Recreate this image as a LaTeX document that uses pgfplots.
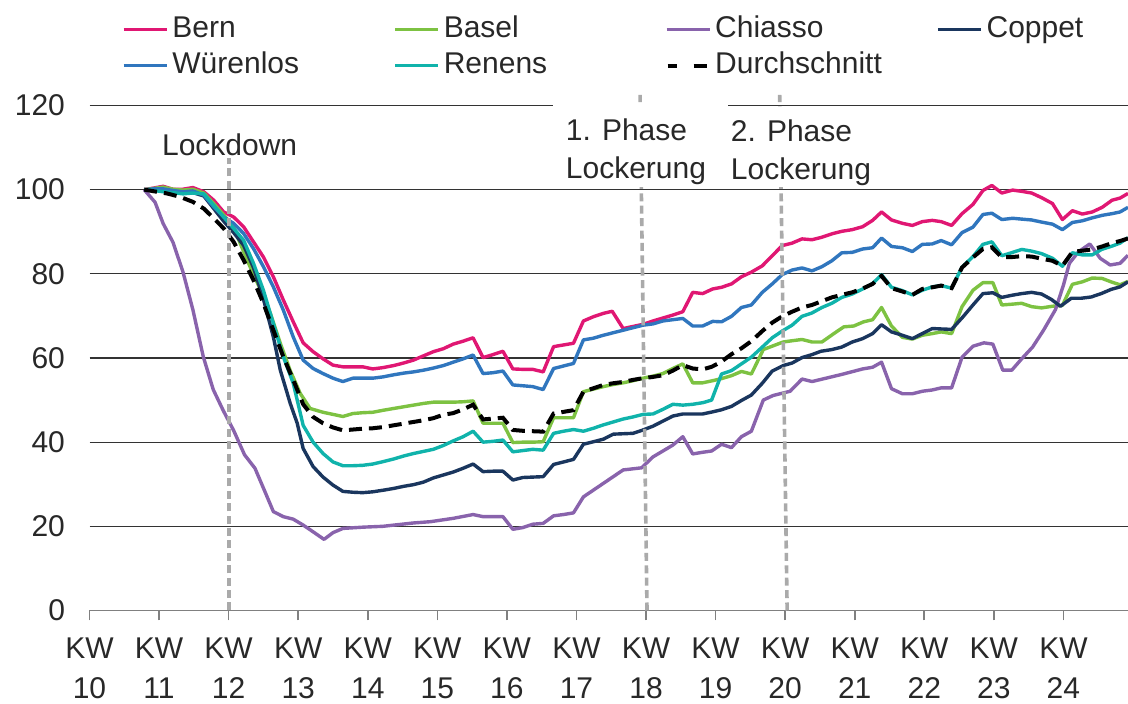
\documentclass[border=0pt]{standalone}
\usepackage{fontspec}
\setmainfont{Liberation Sans}
\usepackage{pgfplots}
\pgfplotsset{compat=1.18}
\definecolor{cBern}{RGB}{224,23,115}
\definecolor{cBasel}{RGB}{125,194,66}
\definecolor{cChiasso}{RGB}{137,99,172}
\definecolor{cCoppet}{RGB}{26,54,94}
\definecolor{cWuer}{RGB}{48,118,190}
\definecolor{cRenens}{RGB}{16,179,171}
\definecolor{cPhase}{RGB}{170,170,170}
\definecolor{cText}{RGB}{40,40,40}
\begin{document}
\begin{tikzpicture}
\path[use as bounding box] (-44.75pt,-46.75pt) rectangle (519.25pt,305.25pt);
\begin{axis}[
  at={(0pt,0pt)}, anchor=south west,
  scale only axis, width=519.25pt, height=252.5pt,
  xmin=0, xmax=104.5, ymin=0, ymax=120,
  clip=false,
  axis x line*=bottom, axis y line*=left,
  y axis line style={draw=none},
  x axis line style={draw=black!50, line width=0.8pt},
  xtick={0,7,...,98},
  xticklabels={KW\\10,KW\\11,KW\\12,KW\\13,KW\\14,KW\\15,KW\\16,KW\\17,KW\\18,KW\\19,KW\\20,KW\\21,KW\\22,KW\\23,KW\\24},
  xtick align=outside,
  ytick align=inside,
  xtick style={draw=black!50, line width=0.8pt},
  major tick length=5pt,
  ytick={0,20,...,120},
  ytick style={draw=none},
  ymajorgrids,
  grid style={draw=black!80, line width=0.6pt},
  tick label style={font=\fontsize{15}{20}\selectfont, text=cText},
  xticklabel style={align=center, yshift=-5pt},
  yticklabel style={xshift=-8.75pt},
  /pgf/number format/assume math mode=true,
  legend columns=4,
  legend cell align=left,
  legend style={draw=none, fill=none, inner sep=0pt, outer sep=0pt,
    at={(axis description cs:0.0313,1.1861)}, anchor=north west,
    font=\fontsize{15}{18}\selectfont, text=cText,
    nodes={inner xsep=0pt, inner ysep=2.25pt, text height=10.5pt, text depth=3pt, text width=90pt},
    /tikz/every odd column/.append style={column sep=2pt},
    /tikz/every even column/.append style={column sep=20.5pt}},
  legend image code/.code={\draw[#1] (0pt,0pt) -- (21.5pt,0pt);},
]
% Bern
\addplot[color=cBern, line width=1.7pt, line join=round] coordinates {
(5.5,100) (6.5,100.4) (7.4,100.8) (8.4,100.1) (9.4,100.1) (10.4,100.5) (11.5,99.5) (12.5,97.5) (13.5,94.7) (14.5,93.5) (15.5,91.2) (16.5,87.6) (17.5,84) (18.5,79.3) (19.5,73.8) (20.5,68.6) (21.5,63.6) (22.5,61.5) (23.5,59.8) (24.5,58.3) (25.5,57.9) (26.5,57.9) (27.5,57.9) (28.5,57.4) (29.5,57.7) (30.6,58.2) (31.6,58.8) (32.6,59.5) (33.6,60.5) (34.6,61.5) (35.6,62.2) (36.6,63.3) (37.6,64) (38.6,64.8) (39.6,60.1) (40.6,60.8) (41.6,61.6) (42.6,57.4) (43.6,57.3) (44.6,57.3) (45.65,56.7) (46.7,62.7) (47.7,63.1) (48.7,63.5) (49.7,68.8) (50.7,69.8) (51.7,70.6) (52.6,71.1) (53.7,67) (54.7,67.5) (55.7,68) (56.7,68.8) (57.7,69.5) (58.7,70.2) (59.7,71) (60.7,75.6) (61.7,75.3) (62.7,76.4) (63.6,76.8) (64.6,77.6) (65.6,79.3) (66.6,80.4) (67.7,81.9) (68.7,84.3) (69.7,86.7) (70.7,87.3) (71.7,88.3) (72.7,88.1) (73.7,88.7) (74.7,89.5) (75.7,90.1) (76.75,90.5) (77.8,91.2) (78.8,92.7) (79.7,94.7) (80.7,92.8) (81.8,92) (82.8,91.5) (83.8,92.4) (84.8,92.7) (85.7,92.4) (86.75,91.5) (87.8,94.3) (88.9,96.5) (89.9,99.8) (90.8,101) (91.8,99.2) (92.9,99.9) (93.8,99.6) (94.8,99.2) (95.8,98.1) (96.9,96.7) (97.9,92.9) (98.9,95) (99.9,94.2) (100.9,94.7) (101.9,95.8) (102.9,97.5) (103.7,98) (104.5,99.1)
};
\addlegendentry{Bern}
% Basel
\addplot[color=cBasel, line width=1.7pt, line join=round] coordinates {
(5.5,100) (6.5,100.3) (7.4,100.6) (8.4,100.1) (9.4,99.9) (10.4,100.1) (11.5,99.2) (12.5,96.7) (13.5,94) (14.5,91.2) (15.1,87.6) (16.15,81.7) (17.15,76.5) (18.2,70.6) (19.2,63.5) (20.2,57) (21.2,51.6) (22.2,48) (23.5,47.1) (24.5,46.6) (25.5,46.1) (26.5,46.8) (27.5,47) (28.5,47.1) (29.6,47.6) (30.6,48) (31.6,48.4) (32.6,48.8) (33.6,49.2) (34.6,49.5) (35.6,49.5) (36.6,49.5) (37.6,49.6) (38.6,49.8) (39.6,44.5) (40.6,44.5) (41.6,44.5) (42.6,39.9) (43.6,40) (44.6,40) (45.65,40.1) (46.7,45.8) (47.7,45.8) (48.7,45.8) (49.7,52) (50.7,52.6) (51.7,53.2) (52.7,53.7) (53.7,54.1) (54.7,54.6) (55.7,55.2) (56.7,55.7) (57.7,56.3) (58.7,57.5) (59.7,58.6) (60.7,54.1) (61.7,54.1) (62.7,54.6) (63.6,55.1) (64.6,55.8) (65.6,56.8) (66.6,56.2) (67.8,62) (68.8,62.9) (69.8,63.8) (70.7,64.1) (71.7,64.4) (72.7,63.8) (73.7,63.8) (74.9,65.8) (75.9,67.4) (76.9,67.6) (77.9,68.6) (78.8,69.1) (79.7,72) (80.7,67.6) (81.8,64.9) (82.8,64.5) (83.8,65.4) (84.8,65.8) (85.7,66.2) (86.75,65.8) (87.8,72.2) (88.9,76.1) (89.9,77.9) (90.9,77.9) (91.8,72.6) (92.9,72.8) (93.8,73) (94.8,72.2) (95.8,71.9) (96.9,72.3) (97.9,72.5) (98.9,77.5) (99.9,78.1) (100.9,79) (101.9,78.9) (102.9,78) (103.7,77.4) (104.5,78.2)
};
\addlegendentry{Basel}
% Chiasso
\addplot[color=cChiasso, line width=1.7pt, line join=round] coordinates {
(5.5,100) (6.6,97) (7.4,92) (8.4,87.5) (9.4,80.5) (10.4,71.5) (11.45,60.3) (12.45,52.5) (13.46,47.5) (14.5,42.8) (15.6,37) (16.65,33.8) (17.66,28.2) (18.5,23.5) (19.5,22.3) (20.5,21.7) (21.5,20.3) (22.5,18.7) (23.6,16.9) (24.5,18.5) (25.5,19.5) (27.5,19.8) (29.5,20) (32.6,20.8) (34.3,21.1) (36.6,21.9) (38.6,22.8) (39.6,22.3) (41.6,22.3) (42.6,19.3) (43.6,19.7) (44.6,20.5) (45.65,20.7) (46.7,22.5) (47.7,22.8) (48.7,23.2) (49.7,27) (51.7,30.2) (53.7,33.4) (55.55,33.9) (56.7,36.5) (58.7,39.3) (59.7,41.3) (60.7,37.2) (61.7,37.6) (62.6,37.9) (63.6,39.5) (64.6,38.7) (65.6,41.3) (66.6,42.6) (67.8,50) (68.8,51.1) (70.5,52.1) (71.7,55) (72.7,54.4) (75.7,56.1) (77.8,57.4) (78.8,57.8) (79.7,59) (80.7,52.7) (81.8,51.5) (82.8,51.5) (83.8,52.1) (84.8,52.4) (85.7,52.9) (86.75,52.9) (87.8,60.2) (88.9,62.8) (90,63.6) (90.9,63.3) (91.9,57.1) (92.8,57.1) (93.8,59.8) (94.9,62.6) (96,66.6) (97.2,71.5) (98,77.3) (98.6,82.5) (99.5,85.2) (100.65,87.1) (101.7,83.7) (102.7,82.1) (103.7,82.5) (104.5,84.4)
};
\addlegendentry{Chiasso}
% Coppet
\addplot[color=cCoppet, line width=1.7pt, line join=round] coordinates {
(5.5,100) (6.5,99.8) (7.4,99.9) (8.4,99.5) (9.4,99.2) (10.4,99.3) (11.5,98.5) (12.5,95.5) (13.5,92.5) (14.5,89.8) (15.5,86.8) (16.5,81.5) (17.5,74) (18.5,65) (19.2,57.1) (20.2,49.2) (20.9,44.5) (21.5,38.5) (22.5,34.2) (23.5,31.7) (24.5,29.8) (25.5,28.3) (26.5,28.1) (27.5,28) (28.5,28.2) (29.6,28.6) (30.6,29) (31.6,29.5) (32.6,29.9) (33.6,30.5) (34.6,31.5) (35.6,32.2) (36.6,32.9) (37.6,33.8) (38.6,34.8) (39.6,33) (40.6,33.1) (41.6,33.1) (42.6,31) (43.6,31.6) (44.6,31.7) (45.65,31.8) (46.7,34.7) (47.7,35.3) (48.7,35.9) (49.7,39.5) (50.7,40.1) (51.7,40.7) (52.7,41.9) (53.7,42) (54.7,42.1) (55.7,42.9) (56.7,43.8) (57.7,45) (58.7,46.2) (59.7,46.7) (60.7,46.7) (61.7,46.7) (62.7,47.2) (63.6,47.7) (64.6,48.5) (65.6,49.9) (66.6,51.2) (67.7,54) (68.7,56.9) (69.8,58.2) (70.7,58.8) (71.7,60.1) (72.7,60.8) (73.6,61.6) (74.7,62) (75.7,62.6) (76.75,63.8) (77.8,64.6) (78.8,65.8) (79.7,67.9) (80.7,66.2) (81.8,65.4) (82.8,64.6) (83.8,65.8) (84.8,67) (85.7,66.9) (86.75,66.8) (87.9,69.8) (88.9,72.6) (89.9,75.3) (90.9,75.5) (91.8,74.4) (92.8,74.9) (93.8,75.3) (94.8,75.6) (95.8,75.2) (96.8,73.9) (97.7,72.3) (98.8,74.2) (99.8,74.2) (100.8,74.5) (101.8,75.3) (102.8,76.3) (103.7,76.9) (104.5,78.1)
};
\addlegendentry{Coppet}
% Wuerenlos
\addplot[color=cWuer, line width=1.7pt, line join=round] coordinates {
(5.5,100) (6.5,100.2) (7.4,100.2) (8.4,99.8) (9.4,99.5) (10.4,99.7) (11.5,98.7) (12.5,95.9) (13.5,93.5) (14.5,92) (15.5,89.6) (16.5,86) (17.5,81.7) (18.5,76.9) (19.5,71.4) (20.5,65) (21.5,59.5) (22.5,57.5) (23.5,56.3) (24.5,55.2) (25.5,54.4) (26.5,55.2) (27.5,55.2) (28.5,55.2) (29.5,55.5) (30.6,56) (31.6,56.4) (32.6,56.7) (33.6,57.1) (34.6,57.6) (35.6,58.2) (36.6,59) (37.6,59.8) (38.6,60.7) (39.6,56.3) (40.6,56.5) (41.6,56.9) (42.6,53.6) (43.6,53.4) (44.6,53.2) (45.65,52.5) (46.7,57.5) (47.7,58.1) (48.7,58.7) (49.7,64.3) (50.7,64.7) (51.7,65.4) (52.7,66) (53.7,66.6) (54.7,67.2) (55.7,67.8) (56.7,68.1) (57.7,68.8) (58.7,69.1) (59.7,69.4) (60.7,67.6) (61.7,67.6) (62.7,68.7) (63.6,68.6) (64.6,69.9) (65.6,72) (66.6,72.6) (67.7,75.6) (68.7,77.6) (69.7,79.8) (70.7,80.9) (71.7,81.4) (72.7,80.7) (73.7,81.7) (74.7,83.1) (75.7,85) (76.75,85.1) (77.8,85.9) (78.8,86.2) (79.7,88.5) (80.7,86.5) (81.8,86.2) (82.8,85.3) (83.8,87) (84.8,87.1) (85.7,87.9) (86.75,86.9) (87.8,89.8) (88.9,91.1) (89.9,94.1) (90.8,94.4) (91.8,92.9) (92.9,93.2) (93.8,93) (94.8,92.8) (95.8,92.3) (96.9,91.8) (97.9,90.5) (98.9,92.2) (99.9,92.6) (100.9,93.3) (101.9,93.9) (102.9,94.3) (103.7,94.7) (104.5,95.8)
};
\addlegendentry{Würenlos}
% Renens
\addplot[color=cRenens, line width=1.7pt, line join=round] coordinates {
(5.5,100) (6.5,99.8) (7.4,99.5) (8.4,99.3) (9.4,99) (10.4,99.2) (11.5,99) (12.5,96.3) (13.5,93.5) (14.5,90.8) (15.5,88) (16.5,82.5) (17.5,76.1) (18.5,68.2) (19.5,60.3) (20.5,54) (21.5,44) (22.5,40) (23.5,37.3) (24.5,35.3) (25.5,34.4) (26.5,34.4) (27.5,34.5) (28.5,34.8) (29.6,35.4) (30.6,36) (31.6,36.7) (32.6,37.3) (33.6,37.8) (34.6,38.3) (35.6,39.2) (36.6,40.3) (37.6,41.3) (38.6,42.6) (39.6,40) (40.6,40.2) (41.6,40.5) (42.6,37.7) (43.6,38) (44.6,38.3) (45.65,38.1) (46.7,42.1) (47.7,42.6) (48.7,43) (49.7,42.6) (50.7,43.3) (51.7,44.1) (52.7,44.8) (53.7,45.5) (54.7,46) (55.7,46.6) (56.7,46.7) (57.7,47.8) (58.7,49) (59.7,48.8) (60.7,49) (61.75,49.4) (62.6,50) (63.6,56.2) (64.6,57) (65.6,58.6) (66.6,60.2) (67.7,62.6) (68.7,64.8) (69.7,66.4) (70.7,67.8) (71.7,69.9) (72.7,70.7) (73.7,72) (74.7,73) (75.7,74.4) (76.75,75.2) (77.8,76.4) (78.8,77.7) (79.7,79.8) (80.7,76.8) (81.8,76) (82.8,75) (83.8,76.1) (84.8,76.9) (85.7,77.2) (86.75,76.6) (87.8,81.6) (88.9,84.1) (89.9,87) (90.8,87.6) (91.8,84.3) (92.9,85.1) (93.8,85.8) (94.8,85.4) (95.8,84.8) (96.9,83.7) (97.9,81.8) (98.9,85) (99.9,84.5) (100.9,84.5) (101.85,85.8) (102.9,86.6) (103.7,87.3) (104.5,88.6)
};
\addlegendentry{Renens}
% Durchschnitt
\addplot[color=black, line width=2pt, dash pattern=on 6.5pt off 3.5pt,
  legend image code/.code={\draw[black, line width=2pt] (0.5pt,0pt) -- (5pt,0pt) (13.5pt,0pt) -- (20pt,0pt);}] coordinates {
(5.5,100) (7.8,99.1) (9.1,98.3) (10.4,97.1) (11.5,95.5) (12.5,93.2) (13.5,90.8) (14.5,87.6) (15.5,83.3) (16.5,78.5) (17.5,73) (18.5,66.6) (19.5,60.3) (20.5,54.8) (21.5,49) (22.5,46) (23.5,44.5) (24.5,43.5) (25.5,42.8) (26.5,43) (27.5,43.2) (28.5,43.3) (29.6,43.6) (30.6,44) (31.6,44.4) (32.6,44.8) (33.6,45.2) (34.6,45.7) (35.6,46.5) (36.6,46.9) (37.6,47.8) (38.6,48.9) (39.6,45.4) (40.6,45.6) (41.6,45.8) (42.6,42.9) (43.6,42.7) (44.6,42.6) (45.65,42.5) (46.7,46.8) (47.7,47.2) (48.7,47.6) (49.7,52) (50.7,52.8) (51.7,53.6) (52.7,54) (53.7,54.3) (54.7,54.8) (55.7,55.2) (56.7,55.5) (57.7,55.9) (58.7,57) (59.7,58.3) (60.7,57.5) (61.7,57.3) (62.6,57.9) (63.5,59) (64.6,60.9) (65.6,62.3) (66.6,64) (67.7,66.4) (68.7,68.4) (69.7,69.9) (70.7,71) (71.7,72) (72.7,72.6) (73.7,73.5) (74.7,74.4) (75.7,75) (76.75,75.6) (77.8,76.5) (78.8,77.6) (79.7,79.5) (80.7,76.6) (81.8,75.8) (82.8,75) (83.8,76.4) (84.8,76.8) (85.7,77.2) (86.75,76.6) (87.8,81.5) (88.9,83.9) (89.9,85.9) (90.8,86.3) (91.8,83.9) (92.9,84) (93.8,84.2) (94.8,84.1) (95.8,83.6) (96.9,83.1) (97.9,81.9) (98.9,85.2) (99.9,85.5) (100.9,85.8) (101.9,86.5) (102.9,87.3) (103.7,87.8) (104.5,88.4)
};
\addlegendentry{Durchschnitt}
% event lines
\draw[cPhase, line width=1.8pt, dash pattern=on 4pt off 2.2pt] (axis cs:14.05,0) -- (axis cs:14.05,107.5);
\draw[cPhase, line width=1.8pt, dash pattern=on 4pt off 2.2pt] (axis cs:56.1,0) -- (axis cs:55.4,122.5);
\draw[cPhase, line width=1.8pt, dash pattern=on 4pt off 2.2pt] (axis cs:70.2,0) -- (axis cs:69.45,122.5);
\fill[white] (axis cs:46.6,100.7) rectangle (axis cs:64.2,120.6);
\fill[white] (axis cs:64.2,100.7) rectangle (axis cs:79.3,119.6);
\node[font=\fontsize{15}{19}\selectfont, text=cText, inner sep=0pt] at (axis cs:14.1,110.6) {Lockdown};
\node[font=\fontsize{15}{19}\selectfont, text=cText, inner sep=0pt, anchor=west, align=left] at (axis cs:47.9,109.1) {1. Phase\\Lockerung};
\node[font=\fontsize{15}{19}\selectfont, text=cText, inner sep=0pt, anchor=west, align=left] at (axis cs:64.5,108.7) {2. Phase\\Lockerung};
\end{axis}
\end{tikzpicture}
\end{document}
